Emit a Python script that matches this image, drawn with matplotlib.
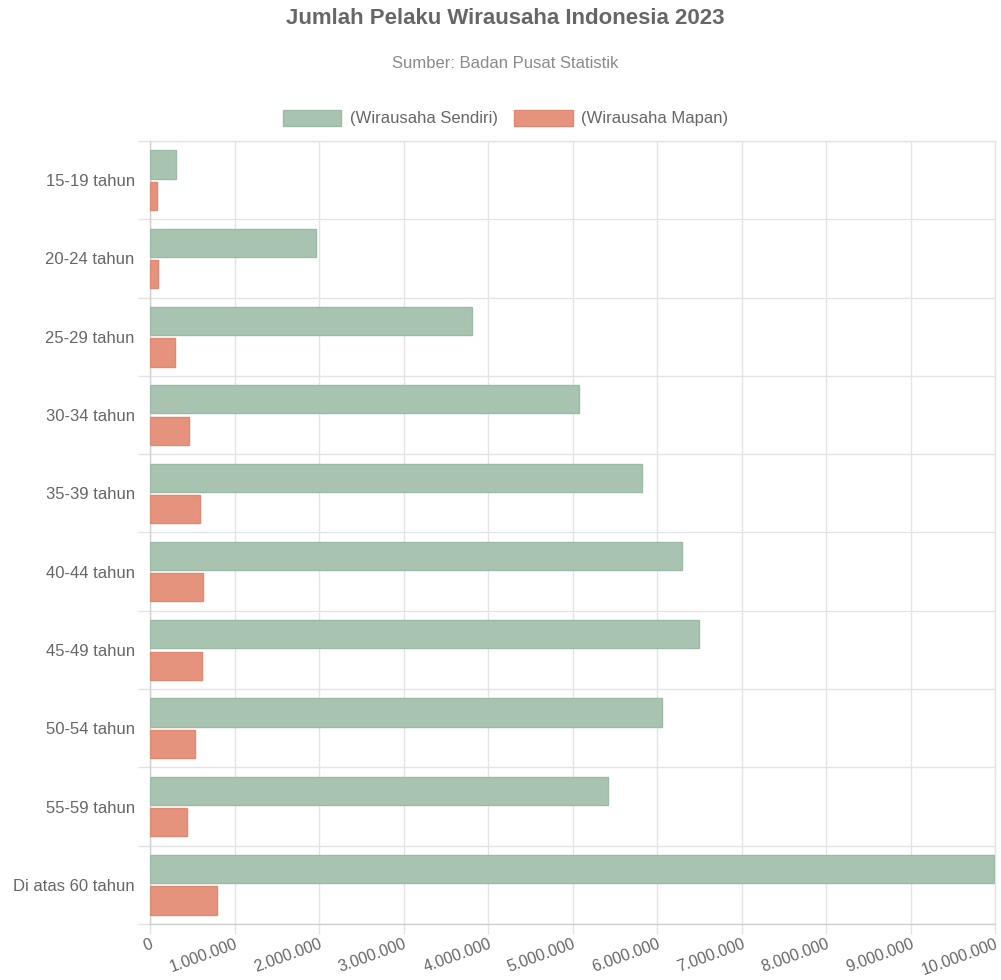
import numpy as np
import matplotlib.pyplot as plt
from matplotlib.ticker import FixedLocator, FuncFormatter

categories = ['15-19 tahun', '20-24 tahun', '25-29 tahun', '30-34 tahun', '35-39 tahun',
              '40-44 tahun', '45-49 tahun', '50-54 tahun', '55-59 tahun', 'Di atas 60 tahun']
sendiri = [310000, 1960000, 3810000, 5080000, 5820000, 6300000, 6500000, 6060000, 5420000, 9990000]
mapan = [80000, 90000, 300000, 460000, 590000, 630000, 620000, 530000, 440000, 790000]
x_ticks = list(range(0, 10000001, 1000000))

plt.rcParams['font.family'] = ['Liberation Sans', 'DejaVu Sans']
grid_c = '#e4e4e4'
text_c = '#666666'

fig = plt.figure(figsize=(10.01, 9.8), dpi=100)
ax = fig.add_axes([150 / 1001, 56 / 980, 845 / 1001, 783 / 980])

y = np.arange(len(categories))
bw = 0.36
ax.barh(y - 0.2, sendiri, height=bw, color='#a8c4b1', edgecolor='#9cbba6', linewidth=1, label='(Wirausaha Sendiri)', zorder=3)
ax.barh(y + 0.2, mapan, height=bw, color='#e6937e', edgecolor='#df8872', linewidth=1, label='(Wirausaha Mapan)', zorder=3)

ax.set_xlim(0, 10000000)
ax.set_ylim(len(categories) - 0.5, -0.5)

ax.set_yticks(y)
ax.set_yticklabels(categories, fontsize=12, color=text_c)
ax.yaxis.set_minor_locator(FixedLocator(np.arange(-0.5, len(categories), 1)))
ax.tick_params(axis='y', which='major', length=0, pad=11)
ax.tick_params(axis='y', which='minor', length=9, color=grid_c, width=1)
ax.grid(axis='y', which='minor', color=grid_c, linewidth=1, zorder=0)

ax.set_xticks(x_ticks)
ax.xaxis.set_major_formatter(FuncFormatter(lambda v, p: f'{int(v):,}'.replace(',', '.')))
ax.tick_params(axis='x', length=7, color=grid_c, width=1, labelsize=11.5, labelcolor=text_c, pad=2)
for lab in ax.get_xticklabels():
    lab.set_rotation(20)
    lab.set_ha('right')
    lab.set_rotation_mode('anchor')
ax.grid(axis='x', color=grid_c, linewidth=1, zorder=0)

for s in ax.spines.values():
    s.set_color(grid_c)
    s.set_linewidth(1)
ax.spines['left'].set_color('#d0d0d0')
ax.spines['bottom'].set_color('#d0d0d0')

fig.text(0.505, 1 - 18 / 980, 'Jumlah Pelaku Wirausaha Indonesia 2023', ha='center', va='center',
         fontsize=16, fontweight='bold', color=text_c)
fig.text(0.505, 1 - 64 / 980, 'Sumber: Badan Pusat Statistik', ha='center', va='center',
         fontsize=12, color='#8a8a8a')
fig.legend(loc='center', bbox_to_anchor=(0.505, 1 - 118 / 980), ncol=2, frameon=False,
           fontsize=12, labelcolor=text_c, handlelength=3.5, handleheight=1.1,
           handletextpad=0.5, columnspacing=1.0)

fig.savefig('out.png', dpi=100, facecolor='white')
